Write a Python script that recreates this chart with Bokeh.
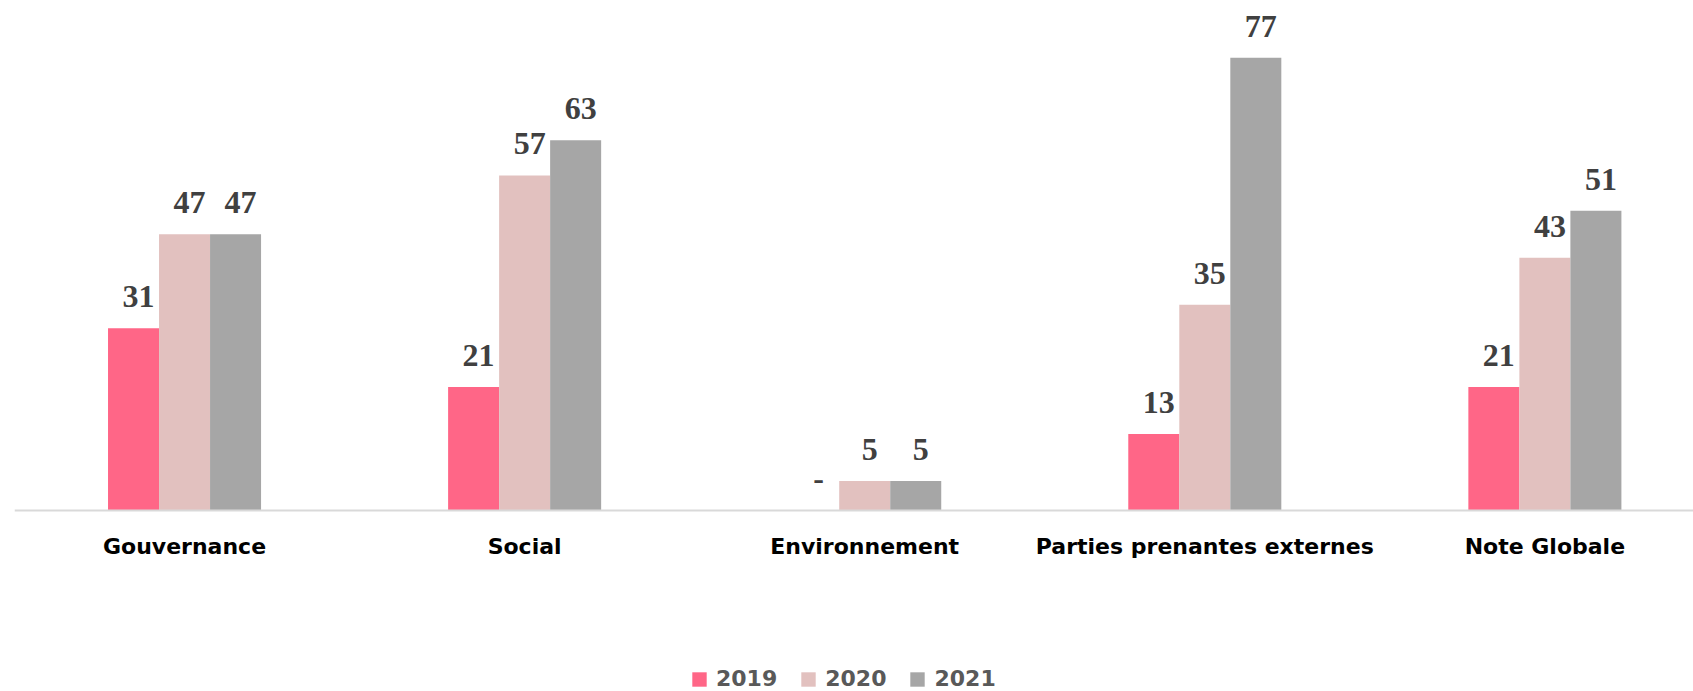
from bokeh.plotting import figure
from bokeh.models import (ColumnDataSource, Range1d, FixedTicker, LabelSet,
                          Legend, LegendItem)
from bokeh.transform import dodge
from bokeh.embed import file_html
from bokeh.resources import INLINE

categories = ["Gouvernance", "Social", "Environnement",
              "Parties prenantes externes", "Note Globale"]
years = ["2019", "2020", "2021"]
v2019 = [31, 21, 0, 13, 21]
v2020 = [47, 57, 5, 35, 43]
v2021 = [47, 63, 5, 77, 51]
colors = ["#FF6687", "#E2C1BF", "#A6A6A6"]

series = [v2019, v2020, v2021]
idx = list(range(len(categories)))

W, H = 1693, 691
p = figure(width=W, height=H, output_backend="svg", toolbar_location=None,
           x_range=Range1d(-0.5, 4.437), y_range=Range1d(-30.8, 85.4),
           min_border_left=14, min_border_right=0, min_border_top=8,
           min_border_bottom=0)

p.outline_line_color = None
p.xgrid.visible = False
p.ygrid.visible = False
p.yaxis.visible = False
p.background_fill_color = "white"
p.border_fill_color = "white"

offsets = [-0.15, 0.0, 0.15]
renderers = []
for yr, vals, col, off in zip(years, series, colors, offsets):
    src = ColumnDataSource(dict(
        idx=idx, val=vals,
        lab=["-" if v == 0 else str(v) for v in vals]))
    r = p.vbar(x=dodge("idx", off), top="val", width=0.15, bottom=0,
               source=src, fill_color=col, line_color=None)
    renderers.append(r)
    ls = LabelSet(x=dodge("idx", off), y="val", text="lab", source=src,
                  text_align="center", text_baseline="alphabetic",
                  x_offset=5, y_offset=21,
                  text_font="Liberation Serif", text_font_style="bold",
                  text_font_size="32px", text_color="#404040")
    p.add_layout(ls)

ax = p.xaxis[0]
ax.fixed_location = 0
ax.ticker = FixedTicker(ticks=idx)
ax.major_label_overrides = {i: c for i, c in zip(idx, categories)}
ax.major_tick_line_color = None
ax.minor_tick_line_color = None
ax.major_tick_out = 0
ax.major_tick_in = 0
ax.axis_line_color = "#D9D9D9"
ax.axis_line_width = 2
ax.major_label_standoff = 24
ax.major_label_text_font = "DejaVu Sans"
ax.major_label_text_font_style = "bold"
ax.major_label_text_font_size = "22px"
ax.major_label_text_color = "#000000"

legend = Legend(items=[LegendItem(label=y, renderers=[r])
                       for y, r in zip(years, renderers)],
                orientation="horizontal", location=(676, 0),
                padding=0, margin=0, spacing=22, label_standoff=8,
                glyph_width=18, glyph_height=18,
                border_line_color=None, background_fill_alpha=0,
                label_text_font="DejaVu Sans", label_text_font_style="bold",
                label_text_font_size="22px", label_text_color="#595959")
p.add_layout(legend, "center")

open("out.html", "w").write(file_html(p, INLINE))
